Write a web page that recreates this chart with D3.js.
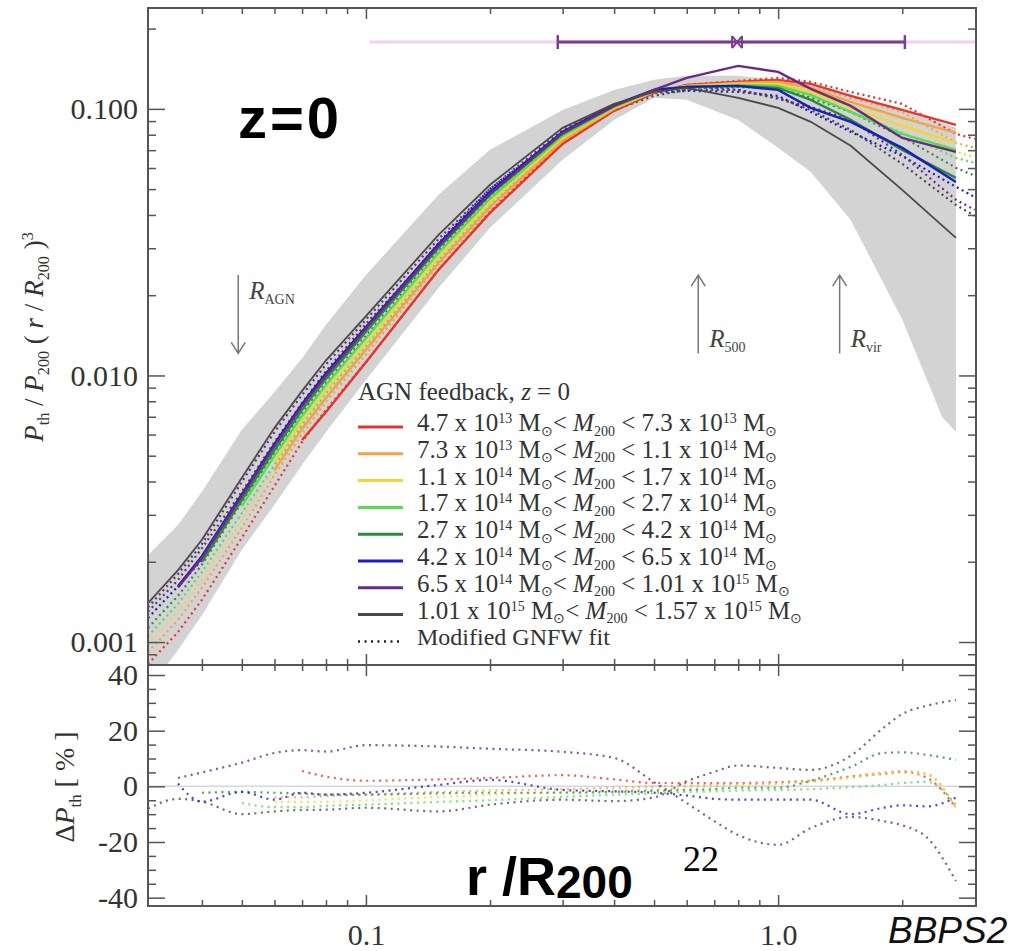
<!DOCTYPE html>
<html>
<head>
<meta charset="utf-8">
<script src="https://cdn.jsdelivr.net/npm/d3@7"></script>
<style>
  body { margin: 0; background: #fff; }
  text { white-space: pre; }
</style>
</head>
<body>
<div id="chart"></div>
<script>
// radius grid (r / R200) shared by the simulated profiles and the GNFW fits
const radius = [0.0296, 0.035, 0.04, 0.05, 0.06, 0.07, 0.08, 0.1, 0.15, 0.2, 0.3, 0.4, 0.5, 0.6, 0.8, 1.0, 1.2, 1.5, 2.0, 2.7, 3.0];

// simulated P_th / P200 (r/R200)^3, solid lines
const simRed       = [null, null, null, null, null, 0.00573, 0.00730, 0.0112, 0.0249, 0.0407, 0.0739, 0.0983, 0.1148, 0.1230, 0.1263, 0.1285, 0.1241, 0.1119, 0.0991, 0.0871, null];
const simOrange    = [null, null, null, null, 0.00442, 0.00630, 0.00824, 0.0125, 0.0264, 0.0429, 0.0759, 0.1000, 0.1158, 0.1220, 0.1252, 0.1263, 0.1199, 0.1062, 0.0925, 0.0813, null];
const simYellow    = [null, null, null, null, 0.00474, 0.00675, 0.00882, 0.0132, 0.0278, 0.0448, 0.0778, 0.1009, 0.1168, 0.1220, 0.1241, 0.1241, 0.1158, 0.1009, 0.0864, 0.0746, null];
const simGreen     = [null, null, null, 0.00324, 0.00499, 0.00705, 0.00921, 0.0138, 0.0288, 0.0460, 0.0792, 0.1017, 0.1168, 0.1209, 0.1230, 0.1220, 0.1128, 0.0974, 0.0806, 0.0702, null];
const simDarkGreen = [null, null, 0.00200, 0.00341, 0.00525, 0.00743, 0.00971, 0.0146, 0.0301, 0.0476, 0.0806, 0.1026, 0.1178, 0.1209, 0.1220, 0.1199, 0.1081, 0.0909, 0.0702, 0.0551, null];
const simBlue      = [null, 0.00162, 0.00210, 0.00359, 0.00553, 0.00782, 0.0102, 0.0152, 0.0311, 0.0488, 0.0820, 0.1035, 0.1178, 0.1209, 0.1220, 0.1178, 0.1009, 0.0894, 0.0714, 0.0532, null];
const simPurple    = [null, 0.00160, 0.00207, 0.00353, 0.00544, 0.00769, 0.0100, 0.0150, 0.0306, 0.0480, 0.0813, 0.1026, 0.1178, 0.1307, 0.1450, 0.1377, 0.1189, 0.1026, 0.0778, 0.0690, null];
const simBlack     = [0.00140, 0.00186, 0.00242, 0.00413, 0.00636, 0.00875, 0.0114, 0.0167, 0.0337, 0.0519, 0.0849, 0.1044, 0.1158, 0.1199, 0.1100, 0.1009, 0.0894, 0.0727, 0.0497, 0.0328, null];

// modified GNFW fits, dotted lines
const fitRed       = [0.000827, 0.00109, 0.00144, 0.00246, 0.00385, 0.00563, 0.00743, 0.0112, 0.0249, 0.0411, 0.0752, 0.0991, 0.1148, 0.1230, 0.1274, 0.1307, 0.1263, 0.1158, 0.1044, 0.0806, 0.0771];
const fitOrange    = [0.000918, 0.00121, 0.00160, 0.00268, 0.00423, 0.00603, 0.00796, 0.0120, 0.0260, 0.0422, 0.0752, 0.0991, 0.1158, 0.1220, 0.1263, 0.1274, 0.1220, 0.1100, 0.0974, 0.0746, 0.0714];
const fitYellow    = [0.000983, 0.00130, 0.00171, 0.00287, 0.00446, 0.00636, 0.00831, 0.0126, 0.0267, 0.0433, 0.0765, 0.0991, 0.1158, 0.1209, 0.1241, 0.1252, 0.1178, 0.1035, 0.0909, 0.0690, 0.0661];
const fitGreen     = [0.00105, 0.00139, 0.00183, 0.00305, 0.00462, 0.00652, 0.00860, 0.0129, 0.0271, 0.0436, 0.0765, 0.0983, 0.1138, 0.1189, 0.1209, 0.1199, 0.1119, 0.0974, 0.0813, 0.0655, 0.0627];
const fitDarkGreen = [0.00113, 0.00149, 0.00195, 0.00335, 0.00512, 0.00724, 0.00938, 0.0141, 0.0293, 0.0464, 0.0785, 0.1009, 0.1158, 0.1189, 0.1209, 0.1189, 0.1100, 0.0974, 0.0785, 0.0601, 0.0561];
const fitBlue      = [0.00123, 0.00162, 0.00203, 0.00353, 0.00525, 0.00762, 0.00987, 0.0148, 0.0314, 0.0501, 0.0806, 0.1017, 0.1148, 0.1168, 0.1158, 0.1119, 0.0974, 0.0820, 0.0666, 0.0510, 0.0467];
const fitPurple    = [0.00135, 0.00180, 0.00233, 0.00399, 0.00614, 0.00845, 0.0110, 0.0162, 0.0325, 0.0501, 0.0834, 0.1026, 0.1158, 0.1220, 0.1178, 0.1090, 0.1017, 0.0909, 0.0672, 0.0456, 0.0418];
const fitBlack     = [0.00130, 0.00171, 0.00225, 0.00366, 0.00563, 0.00789, 0.0104, 0.0156, 0.0306, 0.0480, 0.0792, 0.0991, 0.1119, 0.1178, 0.1178, 0.1100, 0.0991, 0.0834, 0.0622, 0.0436, 0.0397];

// grey scatter band
const bandR    = [0.0296, 0.035, 0.04, 0.05, 0.06, 0.07, 0.08, 0.1, 0.15, 0.2, 0.3, 0.4, 0.5, 0.6, 0.8, 1.0, 1.2, 1.5, 2.0, 2.5, 2.7];
const bandHigh = [0.00212, 0.00275, 0.00366, 0.00625, 0.00867, 0.0116, 0.0155, 0.0238, 0.0476, 0.0702, 0.0991, 0.1178, 0.1285, 0.1330, 0.1330, 0.1285, 0.1220, 0.1128, 0.0991, 0.0886, 0.0849];
const bandLow  = [0.000661, 0.000934, 0.00126, 0.00222, 0.00327, 0.00462, 0.00614, 0.00962, 0.0213, 0.0358, 0.0644, 0.0909, 0.1100, 0.1081, 0.0909, 0.0714, 0.0580, 0.0383, 0.0162, 0.00699, 0.00614];

// residuals, lower panel (percent)
const resR         = [0.0296, 0.035, 0.04, 0.05, 0.06, 0.07, 0.08, 0.1, 0.15, 0.2, 0.3, 0.4, 0.5, 0.6, 0.7, 0.8, 1.0, 1.2, 1.5, 1.8, 2.0, 2.3, 2.7];
const resRed       = [null, null, null, null, null, 5.5, 3.5, 2, 2.5, 3, 4, 2.5, 1.2, 1.2, 1.2, 1.2, 1.5, 2, 3.5, 4.5, 5.2, 3, -7.7];
const resOrange    = [null, null, null, null, -4, -4, -3.5, -3, -2, -1.5, -1, -0.5, 0, 0.3, 0.5, 0.8, 1.2, 2, 3.5, 5, 5.5, 4.5, -8];
const resYellow    = [null, null, null, null, -5.6, -5.6, -5.6, -5, -3.8, -3, -2, -1.5, -1, -0.5, -0.2, 0.3, 0.8, 1.5, 3, 4.5, 4.9, 4, -7.7];
const resGreen     = [null, null, null, -6, -7.5, -7.5, -7, -6.6, -5.6, -5, -3.8, -3, -2.5, -2, -1.8, -1.5, -1.3, -1, -0.3, 0.5, 1.2, 1.6, -6.6];
const resDarkGreen = [null, null, -2.3, -2, -2.3, -2.6, -3, -3, -2.5, -2.3, -2.3, -2, -1.6, -1.3, -1, -0.5, -0.5, 2, 7, 12, 12.2, 11.3, 9.5];
const resBlue      = [null, 1, -5.5, -2, -4.8, -2.3, -3, -2.3, 0.5, 2.3, -1.3, -1.8, -2.3, -3.3, -4.5, -4.8, -4.8, -4.8, -10, -7.7, -6.8, -7.2, -4];
const resPurple    = [null, 3, 5, 8.5, 12, 13, 12.5, 14.8, 14.3, 13.5, 12.4, 10.2, 1.5, -6, -12.5, -17.5, -21, -15, -11, -12.5, -14, -18.5, -34];
const resBlack     = [-8, -4.5, -5.5, -10, -9, -8.5, -8.4, -7.7, -9, -6.6, -4.8, -5.3, -4, 1.8, 5.2, 7.5, 6.6, 5.9, 11, 21, 26, 29, 31];

// legend: mass bins
const massLow     = ["4.7", "7.3", "1.1", "1.7", "2.7", "4.2", "6.5", "1.01"];
const massLowExp  = ["13", "13", "14", "14", "14", "14", "14", "15"];
const massHigh    = ["7.3", "1.1", "1.7", "2.7", "4.2", "6.5", "1.01", "1.57"];
const massHighExp = ["13", "14", "14", "14", "14", "14", "15", "15"];
const colors = ["#e8352b", "#f3a24c", "#f2d43c", "#58dd52", "#2e8a3c", "#1c1cbf", "#6a2a88", "#4a4a4a"];

const simSeries = [simRed, simOrange, simYellow, simGreen, simDarkGreen, simBlue, simPurple, simBlack];
const fitSeries = [fitRed, fitOrange, fitYellow, fitGreen, fitDarkGreen, fitBlue, fitPurple, fitBlack];
const resSeries = [resRed, resOrange, resYellow, resGreen, resDarkGreen, resBlue, resPurple, resBlack];

// ticks
const yMajor = [0.001, 0.01, 0.1];
const yMinor = [0.0009, 0.002, 0.003, 0.004, 0.005, 0.006, 0.007, 0.008, 0.009, 0.02, 0.03, 0.04, 0.05, 0.06, 0.07, 0.08, 0.09, 0.2];
const xMajor = [0.1, 1];
const xMinor = [0.04, 0.05, 0.06, 0.07, 0.08, 0.09, 0.2, 0.3, 0.4, 0.5, 0.6, 0.7, 0.8, 0.9, 2];
const resMajor = [-40, -20, 0, 20, 40];
const resMinor = [-35, -30, -25, -15, -10, -5, 5, 10, 15, 25, 30, 35];

// characteristic radii and the error bar at the top
const arrowR = [0.049, 0.64, 1.41];
const arrowUp = [false, true, true];
const arrowLabel = ["AGN", "500", "vir"];
const arrowTop = 0.0238, arrowBottom = 0.0121;
const errY = 0.178, errCenter = 0.795, errLow = 0.292, errHigh = 2.03, errFaintLow = 0.102;

const svg = d3.select('#chart').append('svg')
  .attr('width', 1017)
  .attr('height', 951)
  .style('font-family', '"Liberation Serif", "Times New Roman", serif');

const pLeft = 148, pRight = 976, pTop = 8, pMid = 665, pBottom = 906;

const x = d3.scaleLog().domain([0.0296, 3.02]).range([pLeft, pRight]);
const y = d3.scaleLog().domain([0.00082, 0.239]).range([pMid, pTop]);
const yRes = d3.scaleLinear().domain([-43, 43.6]).range([pBottom, pMid]);

svg.append('clipPath').attr('id', 'clipTop')
  .append('rect').attr('x', pLeft).attr('y', pTop).attr('width', pRight - pLeft).attr('height', pMid - pTop);
svg.append('clipPath').attr('id', 'clipBot')
  .append('rect').attr('x', pLeft).attr('y', pMid).attr('width', pRight - pLeft).attr('height', pBottom - pMid);

const topG = svg.append('g').attr('clip-path', 'url(#clipTop)');
const botG = svg.append('g').attr('clip-path', 'url(#clipBot)');

// grey band
const area = d3.area()
  .x((d, i) => x(bandR[i]))
  .y0((d, i) => y(bandLow[i]))
  .y1((d, i) => y(bandHigh[i]));
topG.append('path').datum(bandR).attr('d', area).attr('fill', '#d3d3d3');

const line = d3.line()
  .defined(d => d[1] != null)
  .x(d => x(d[0]))
  .y(d => y(d[1]));

// fits (dotted)
fitSeries.forEach((s, k) => {
  topG.append('path')
    .datum(radius.map((r, i) => [r, s[i]]))
    .attr('d', line)
    .attr('fill', 'none')
    .attr('stroke', colors[k])
    .attr('stroke-width', 2.2)
    .attr('stroke-dasharray', '2,3.5');
});

// simulated profiles (solid)
simSeries.forEach((s, k) => {
  topG.append('path')
    .datum(radius.map((r, i) => [r, s[i]]))
    .attr('d', line)
    .attr('fill', 'none')
    .attr('stroke', colors[k])
    .attr('stroke-width', k === 7 ? 1.8 : 2.4);
});

// error bar at the top
svg.append('line')
  .attr('x1', x(errFaintLow)).attr('x2', pRight)
  .attr('y1', y(errY)).attr('y2', y(errY))
  .attr('stroke', '#eed3f0').attr('stroke-width', 3);
svg.append('line')
  .attr('x1', x(errLow)).attr('x2', x(errHigh))
  .attr('y1', y(errY)).attr('y2', y(errY))
  .attr('stroke', '#7b3f8c').attr('stroke-width', 3);
[errLow, errHigh].forEach(v => {
  svg.append('line')
    .attr('x1', x(v)).attr('x2', x(v))
    .attr('y1', y(errY) - 7).attr('y2', y(errY) + 7)
    .attr('stroke', '#7b3f8c').attr('stroke-width', 2.5);
});
{
  const cx = x(errCenter), cy = y(errY);
  svg.append('path')
    .attr('d', `M${cx - 5},${cy - 6}L${cx + 5},${cy + 6}M${cx - 5},${cy + 6}L${cx + 5},${cy - 6}M${cx - 5},${cy - 6}V${cy + 6}M${cx + 5},${cy - 6}V${cy + 6}`)
    .attr('fill', 'none').attr('stroke', '#7b3f8c').attr('stroke-width', 2);
}

// arrows for R_AGN, R500, Rvir
arrowR.forEach((r, k) => {
  const ax = x(r), y1 = y(arrowTop), y2 = y(arrowBottom);
  const tip = arrowUp[k] ? y1 : y2;
  const dir = arrowUp[k] ? 1 : -1;
  svg.append('path')
    .attr('d', `M${ax},${y1}V${y2}M${ax - 7},${tip + dir * 11}L${ax},${tip}L${ax + 7},${tip + dir * 11}`)
    .attr('fill', 'none').attr('stroke', '#777').attr('stroke-width', 1.5);
  const t = svg.append('text')
    .attr('x', ax + 11)
    .attr('y', arrowUp[k] ? y2 - 6 : y1 + 24)
    .attr('fill', '#444')
    .attr('font-size', 25);
  t.append('tspan').attr('font-style', 'italic').text('R');
  t.append('tspan').attr('font-size', 14).attr('dy', 5).text(arrowLabel[k]);
});

// residuals
botG.append('line')
  .attr('x1', pLeft).attr('x2', pRight)
  .attr('y1', yRes(0)).attr('y2', yRes(0))
  .attr('stroke', '#d5d5e5').attr('stroke-width', 1.5);

const resLine = d3.line()
  .defined(d => d[1] != null)
  .x(d => x(d[0]))
  .y(d => yRes(d[1]))
  .curve(d3.curveMonotoneX);

resSeries.forEach((s, k) => {
  botG.append('path')
    .datum(resR.map((r, i) => [r, s[i]]))
    .attr('d', resLine)
    .attr('fill', 'none')
    .attr('stroke', colors[k])
    .attr('stroke-opacity', 0.8)
    .attr('stroke-width', 2.2)
    .attr('stroke-dasharray', '2,4.5');
});

// axes
function styleAxis(g) {
  g.select('.domain').remove();
  g.selectAll('.tick line').attr('stroke', '#555').attr('stroke-width', 1.5);
  g.selectAll('.tick text').attr('fill', '#333').attr('font-size', 30)
    .attr('font-family', '"Liberation Serif", "Times New Roman", serif');
}

svg.append('g').attr('transform', `translate(${pLeft},0)`)
  .call(d3.axisLeft(y).tickValues(yMajor).tickFormat(d3.format('.3f')).tickSizeInner(-17).tickSizeOuter(0).tickPadding(10))
  .call(styleAxis);
svg.append('g').attr('transform', `translate(${pLeft},0)`)
  .call(d3.axisLeft(y).tickValues(yMinor).tickFormat('').tickSizeInner(-8).tickSizeOuter(0))
  .call(styleAxis);
svg.append('g').attr('transform', `translate(${pRight},0)`)
  .call(d3.axisRight(y).tickValues(yMajor).tickFormat('').tickSizeInner(-17).tickSizeOuter(0))
  .call(styleAxis);
svg.append('g').attr('transform', `translate(${pRight},0)`)
  .call(d3.axisRight(y).tickValues(yMinor).tickFormat('').tickSizeInner(-8).tickSizeOuter(0))
  .call(styleAxis);

svg.append('g').attr('transform', `translate(${pLeft},0)`)
  .call(d3.axisLeft(yRes).tickValues(resMajor).tickFormat(d => d.toString()).tickSizeInner(-17).tickSizeOuter(0).tickPadding(10))
  .call(styleAxis);
svg.append('g').attr('transform', `translate(${pLeft},0)`)
  .call(d3.axisLeft(yRes).tickValues(resMinor).tickFormat('').tickSizeInner(-8).tickSizeOuter(0))
  .call(styleAxis);
svg.append('g').attr('transform', `translate(${pRight},0)`)
  .call(d3.axisRight(yRes).tickValues(resMajor).tickFormat('').tickSizeInner(-17).tickSizeOuter(0))
  .call(styleAxis);
svg.append('g').attr('transform', `translate(${pRight},0)`)
  .call(d3.axisRight(yRes).tickValues(resMinor).tickFormat('').tickSizeInner(-8).tickSizeOuter(0))
  .call(styleAxis);

// x ticks on every horizontal edge
[[pTop, 'top'], [pMid, 'bottom'], [pMid, 'top'], [pBottom, 'bottom']].forEach(([py, side]) => {
  const mk = side === 'top' ? d3.axisTop : d3.axisBottom;
  const labelled = py === pBottom;
  svg.append('g').attr('transform', `translate(0,${py})`)
    .call(mk(x).tickValues(xMajor).tickFormat(labelled ? (d => d === 1 ? '1.0' : '0.1') : '').tickSizeInner(-11).tickSizeOuter(0).tickPadding(18))
    .call(styleAxis);
  svg.append('g').attr('transform', `translate(0,${py})`)
    .call(mk(x).tickValues(xMinor).tickFormat('').tickSizeInner(-6).tickSizeOuter(0))
    .call(styleAxis);
});

// frames
svg.append('rect').attr('x', pLeft).attr('y', pTop).attr('width', pRight - pLeft).attr('height', pMid - pTop)
  .attr('fill', 'none').attr('stroke', '#555').attr('stroke-width', 2);
svg.append('rect').attr('x', pLeft).attr('y', pMid).attr('width', pRight - pLeft).attr('height', pBottom - pMid)
  .attr('fill', 'none').attr('stroke', '#555').attr('stroke-width', 2);

// rich text helper: parts with sub / sup / italic
function rich(sel, parts, size, small = 0.6, subShift = 0.24, supShift = 0.36) {
  let shift = 0;
  parts.forEach(p => {
    const target = p.sub ? size * subShift : p.sup ? -size * supShift : 0;
    sel.append('tspan')
      .attr('dy', target - shift)
      .attr('font-size', (p.sub || p.sup) ? size * small : size)
      .attr('font-style', p.it ? 'italic' : null)
      .text(p.t);
    shift = target;
  });
}

// y titles
rich(svg.append('text')
  .attr('transform', 'translate(43,337) rotate(-90)')
  .attr('text-anchor', 'middle').attr('fill', '#333'),
  [{t: 'P', it: 1}, {t: 'th', sub: 1}, {t: ' / '}, {t: 'P', it: 1}, {t: '200', sub: 1}, {t: ' ( '},
   {t: 'r', it: 1}, {t: ' / '}, {t: 'R', it: 1}, {t: '200', sub: 1}, {t: ' )'}, {t: '3', sup: 1}], 27);
rich(svg.append('text')
  .attr('transform', 'translate(74,787) rotate(-90)')
  .attr('text-anchor', 'middle').attr('fill', '#333'),
  [{t: 'Δ'}, {t: 'P', it: 1}, {t: 'th', sub: 1}, {t: ' [ % ]'}], 28);

// legend
const legend = svg.append('g').attr('fill', '#333');
rich(legend.append('text').attr('x', 358).attr('y', 400),
  [{t: 'AGN feedback, '}, {t: 'z', it: 1}, {t: ' = 0'}], 25);
massLow.forEach((lo, k) => {
  const ly = 427 + k * 26.8;
  legend.append('line')
    .attr('x1', 358).attr('x2', 403).attr('y1', ly).attr('y2', ly)
    .attr('stroke', colors[k]).attr('stroke-width', 3);
  rich(legend.append('text').attr('x', 417).attr('y', ly + 4),
    [{t: `${lo} x 10`}, {t: massLowExp[k], sup: 1}, {t: ' M'}, {t: '⊙', sub: 1}, {t: '< '},
     {t: 'M', it: 1}, {t: '200', sub: 1}, {t: ` < ${massHigh[k]} x 10`}, {t: massHighExp[k], sup: 1},
     {t: ' M'}, {t: '⊙', sub: 1}], 25, 0.56, 0.18, 0.32);
});
{
  const ly = 427 + 8 * 26.8;
  legend.append('line')
    .attr('x1', 358).attr('x2', 403).attr('y1', ly).attr('y2', ly)
    .attr('stroke', '#222').attr('stroke-width', 2.5).attr('stroke-dasharray', '2,4.5');
  legend.append('text').attr('x', 417).attr('y', ly + 4).attr('font-size', 24).text('Modified GNFW fit');
}

// overlay annotations
svg.append('text').attr('x', 238).attr('y', 138)
  .attr('font-family', '"Liberation Sans", Arial, sans-serif').attr('font-weight', 'bold')
  .attr('font-size', 58).attr('letter-spacing', 3).attr('fill', '#000').text('z=0');
const rt = svg.append('text').attr('x', 466).attr('y', 895)
  .attr('font-family', '"Liberation Sans", Arial, sans-serif').attr('font-weight', 'bold').attr('fill', '#000');
rt.append('tspan').attr('font-size', 54).text('r /R');
rt.append('tspan').attr('font-size', 46).attr('dy', 3).text('200');
svg.append('text').attr('x', 683).attr('y', 871)
  .attr('font-size', 36).attr('fill', '#000').text('22');
svg.append('text').attr('x', 888).attr('y', 943)
  .attr('font-family', '"Liberation Sans", Arial, sans-serif').attr('font-style', 'italic')
  .attr('font-size', 37).attr('fill', '#111').text('BBPS2');
</script>
</body>
</html>
